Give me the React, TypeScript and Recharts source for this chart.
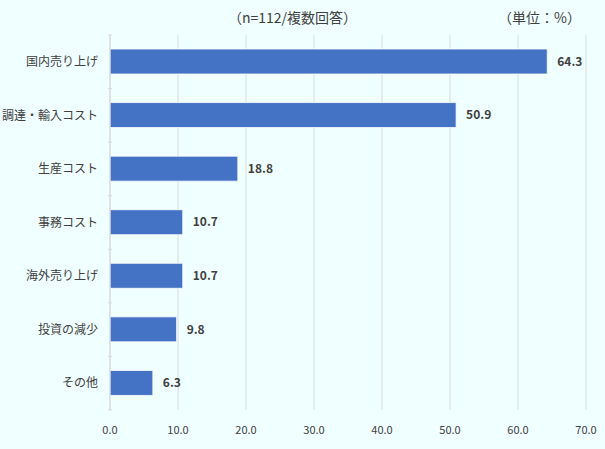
import { Bar, BarChart, CartesianGrid, LabelList, XAxis, YAxis } from 'recharts';

const categories = ['国内売り上げ', '調達・輸入コスト', '生産コスト', '事務コスト', '海外売り上げ', '投資の減少', 'その他'];
const shares = [64.3, 50.9, 18.8, 10.7, 10.7, 9.8, 6.3];
const xTicks = [0, 10, 20, 30, 40, 50, 60, 70];
const title = '（n=112/複数回答）';
const unitNote = '（単位：%）';

const data = categories.map((name, i) => ({ name, value: shares[i] }));

const FONT = '"Noto Sans CJK JP", "Noto Sans", sans-serif';

const CategoryTick = (props: any) => {
  const { x, y, payload } = props;
  const half = payload?.offset ?? 26.8;
  return (
    <g>
      <line x1={x + 6} x2={x + 10} y1={y - half} y2={y - half} stroke="#D9D9D9" />
      {payload.index === categories.length - 1 && (
        <line x1={x + 6} x2={x + 10} y1={y + half} y2={y + half} stroke="#D9D9D9" />
      )}
      <text x={x - 4} y={y} dy="0.35em" textAnchor="end" fill="#404040" fontSize={12} fontFamily={FONT}>
        {payload.value}
      </text>
    </g>
  );
};

export default function App() {
  return (
    <div style={{ position: 'fixed', left: 0, top: 0, width: 605, height: 449, background: '#F0FFFF' }}>
      <div
        style={{
          position: 'absolute',
          left: 0,
          width: 585,
          top: 7,
          textAlign: 'center',
          fontFamily: FONT,
          fontSize: 14,
          color: '#404040',
        }}
      >
        {title}
      </div>
      <div
        style={{ position: 'absolute', right: 24, top: 7, fontFamily: FONT, fontSize: 14, color: '#404040' }}
      >
        {unitNote}
      </div>
      <BarChart
        width={605}
        height={449}
        data={data}
        layout="vertical"
        margin={{ top: 35, right: 19, bottom: 9, left: 0 }}
        barSize={25}
      >
        <CartesianGrid horizontal={false} stroke="#D9D9D9" />
        <XAxis
          type="number"
          domain={[0, 70]}
          ticks={xTicks}
          tickFormatter={(v: number) => v.toFixed(1)}
          axisLine={false}
          tickLine={false}
          tickMargin={10}
          height={30}
          tick={{ fill: '#404040', fontSize: 11, fontFamily: FONT }}
        />
        <YAxis
          type="category"
          dataKey="name"
          width={110}
          axisLine={{ stroke: '#D9D9D9' }}
          tickLine={false}
          tick={<CategoryTick />}
        />
        <Bar dataKey="value" fill="#4472C4" stroke="#FFFFFF" strokeWidth={0.8} isAnimationActive={false}>
          <LabelList
            dataKey="value"
            position="right"
            offset={10}
            formatter={(v: number) => v.toFixed(1)}
            fill="#404040"
            fontSize={12}
            fontWeight="bold"
            fontFamily={FONT}
          />
        </Bar>
      </BarChart>
    </div>
  );
}
